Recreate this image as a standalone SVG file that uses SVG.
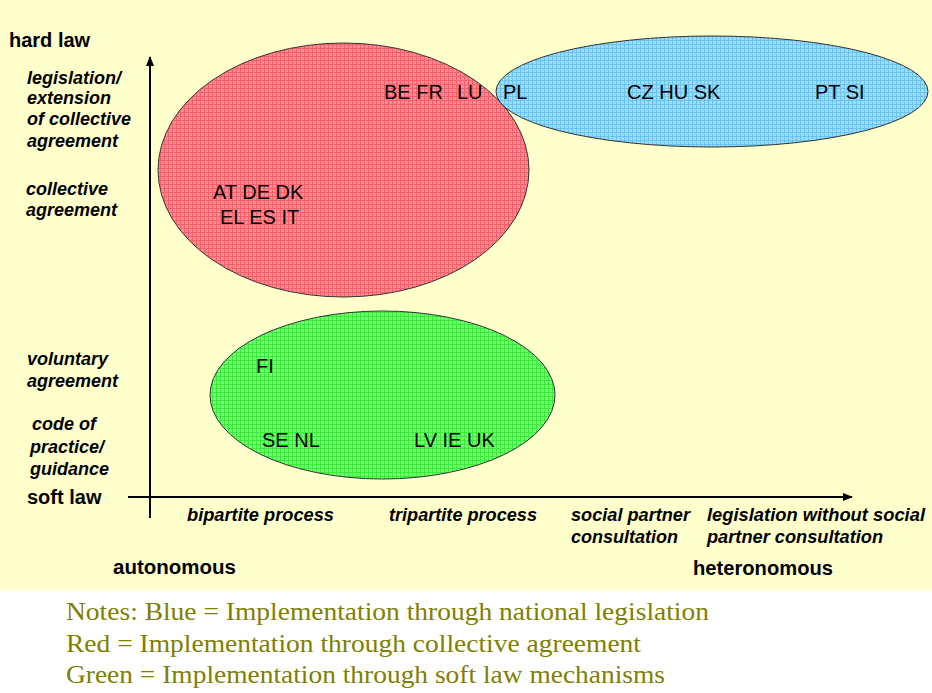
<svg xmlns="http://www.w3.org/2000/svg" width="932" height="693" viewBox="0 0 932 693">
<defs>
<pattern id="pRed" width="4" height="4" patternUnits="userSpaceOnUse">
<rect width="4" height="4" fill="#FF8A8E"/>
<rect width="4" height="1" fill="#F4606E"/>
<rect width="1" height="4" fill="#F4606E"/>
</pattern>
<pattern id="pBlue" width="4" height="4" patternUnits="userSpaceOnUse">
<rect width="4" height="4" fill="#9ADCFA"/>
<rect width="4" height="1" fill="#6CC4EE"/>
<rect width="1" height="4" fill="#6CC4EE"/>
</pattern>
<pattern id="pGreen" width="4" height="4" patternUnits="userSpaceOnUse">
<rect width="4" height="4" fill="#70FF70"/>
<rect width="4" height="1" fill="#3CEA3C"/>
<rect width="1" height="4" fill="#3CEA3C"/>
</pattern>
<marker id="arr" viewBox="0 0 10 10" refX="9" refY="5" markerWidth="5" markerHeight="5" orient="auto" markerUnits="strokeWidth">
<path d="M0,1 L10,5 L0,9 z" fill="#000"/>
</marker>
<style>
.ell{stroke:#333;stroke-width:1}
.cc{font-family:"Liberation Sans",Arial,sans-serif;font-size:20px;fill:#000}
.ax{font-family:"Liberation Sans",Arial,sans-serif;font-size:20px;font-weight:bold;fill:#000}
.it{font-family:"Liberation Sans",Arial,sans-serif;font-size:18px;font-weight:bold;font-style:italic;fill:#000}
.note{font-family:"Liberation Serif","Times New Roman",serif;font-size:26px;fill:#808000}
</style>
</defs>
<rect x="0" y="0" width="932" height="590" fill="#FFFFCC"/>
<rect x="0" y="590" width="932" height="103" fill="#FFFFFF"/>

<g id="connectors" stroke="#000" stroke-width="2" fill="none">
<line x1="150" y1="518" x2="150" y2="57" marker-end="url(#arr)"/>
<line x1="128" y1="497" x2="852" y2="497" marker-end="url(#arr)"/>
</g>

<g id="node-red">
<ellipse class="ell" cx="343.5" cy="170" rx="185.5" ry="127" fill="url(#pRed)"/>
<text class="cc" x="384" y="99">BE FR</text>
<text class="cc" x="457" y="99">LU</text>
<text class="cc" x="213" y="199">AT DE DK</text>
<text class="cc" x="220" y="224">EL ES IT</text>
</g>

<g id="node-blue">
<ellipse class="ell" cx="712" cy="91.5" rx="216" ry="55.5" fill="url(#pBlue)"/>
<text class="cc" x="503" y="99">PL</text>
<text class="cc" x="627" y="99">CZ HU SK</text>
<text class="cc" x="815" y="99">PT SI</text>
</g>

<g id="node-green">
<ellipse class="ell" cx="382.5" cy="395" rx="172.5" ry="84" fill="url(#pGreen)"/>
<text class="cc" x="256" y="373">FI</text>
<text class="cc" x="262" y="447">SE NL</text>
<text class="cc" x="414" y="447">LV IE UK</text>
</g>

<g id="y-labels">
<text class="ax" x="9" y="47">hard law</text>
<text class="it" x="27" y="84">legislation/</text>
<text class="it" x="27" y="104">extension</text>
<text class="it" x="27" y="125">of collective</text>
<text class="it" x="27" y="147">agreement</text>
<text class="it" x="26" y="195">collective</text>
<text class="it" x="26" y="216">agreement</text>
<text class="it" x="27" y="365">voluntary</text>
<text class="it" x="27" y="387">agreement</text>
<text class="it" x="32" y="430">code of</text>
<text class="it" x="30" y="453">practice/</text>
<text class="it" x="30" y="475">guidance</text>
<text class="ax" x="27" y="504">soft law</text>
</g>

<g id="x-labels">
<text class="it" x="187" y="521" textLength="147" lengthAdjust="spacingAndGlyphs">bipartite process</text>
<text class="it" x="389" y="521" textLength="148" lengthAdjust="spacingAndGlyphs">tripartite process</text>
<text class="it" x="571" y="521" textLength="119" lengthAdjust="spacingAndGlyphs">social partner</text>
<text class="it" x="571" y="543" textLength="107" lengthAdjust="spacingAndGlyphs">consultation</text>
<text class="it" x="707" y="521" textLength="218" lengthAdjust="spacingAndGlyphs">legislation without social</text>
<text class="it" x="707" y="543" textLength="176" lengthAdjust="spacingAndGlyphs">partner consultation</text>
<text class="ax" x="113" y="574" font-size="19" textLength="123" lengthAdjust="spacingAndGlyphs">autonomous</text>
<text class="ax" x="693" y="575" font-size="19" textLength="140" lengthAdjust="spacingAndGlyphs">heteronomous</text>
</g>

<g id="notes">
<text class="note" x="66" y="620" textLength="643" lengthAdjust="spacingAndGlyphs">Notes: Blue = Implementation through national legislation</text>
<text class="note" x="66" y="652" textLength="575" lengthAdjust="spacingAndGlyphs">Red = Implementation through collective agreement</text>
<text class="note" x="66" y="683" textLength="599" lengthAdjust="spacingAndGlyphs">Green = Implementation through soft law mechanisms</text>
</g>
</svg>
